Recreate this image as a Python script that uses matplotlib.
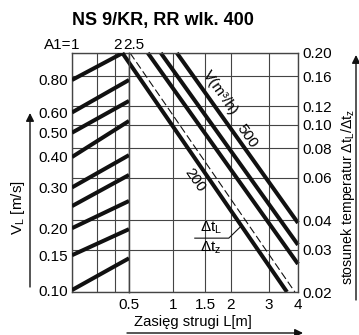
import numpy as np
import matplotlib
matplotlib.use("Agg")
import matplotlib.pyplot as plt
from matplotlib.transforms import ScaledTranslation

plt.rcParams['font.family'] = ['Liberation Sans', 'DejaVu Sans']
plt.rcParams['mathtext.fontset'] = 'custom'
plt.rcParams['mathtext.rm'] = 'Liberation Sans'

# left panel: outlet area A1 vs air velocity V_L
a1_ticks = [1, 1.5, 2, 2.5]
a1_labels = ['1', '', '2', '2.5']
vl_ticks = [0.10, 0.15, 0.20, 0.30, 0.40, 0.50, 0.60, 0.80]
vl_start = [0.80, 0.60, 0.50, 0.40, 0.30, 0.25, 0.20, 0.15, 0.10]
vl_end = [1.012, 0.80, 0.665, 0.556, 0.407, 0.338, 0.263, 0.198, 0.145]
a1_end = [2.26, 2.5, 2.5, 2.5, 2.5, 2.5, 2.5, 2.5, 2.5]

# right panel: throw L vs temperature ratio
L_ticks = [0.5, 1, 1.5, 2, 3, 4]
dt_ticks = [0.02, 0.03, 0.04, 0.06, 0.08, 0.10, 0.12, 0.16, 0.20]
line_L0 = [0.44, 0.69, 0.84, 1.05]
line_dt0 = [0.20, 0.20, 0.20, 0.20]
line_L1 = [3.59, 4.0, 4.0, 4.0]
line_dt1 = [0.020, 0.0262, 0.0315, 0.0389]
dash_L = [0.51, 3.88]
dash_dt = [0.20, 0.02]

W, H = 359, 335
fig = plt.figure(figsize=(W / 100, H / 100), dpi=100)
grid_kw = dict(color='#444444', lw=0.8)
fs = 11

axA = fig.add_axes([72 / W, 43 / H, 57 / W, 239 / H])
axR = fig.add_axes([129 / W, 43 / H, 169 / W, 239 / H])

for ax in (axA, axR):
    ax.set_yscale('log')
    ax.set_ylim(0.02, 0.2)
    ax.set_yticks(dt_ticks)
    ax.set_yticks([], minor=True)
    ax.grid(True, **grid_kw)
    for s in ax.spines.values():
        s.set_color('#444444')
        s.set_linewidth(1.0)
    ax.tick_params(length=0, labelsize=fs)

# left panel
axA.set_xscale('log')
axA.set_xlim(1, 2.5)
axA.set_xticks(a1_ticks, a1_labels)
axA.set_xticks([], minor=True)
axA.xaxis.tick_top()
axA.tick_params(axis='x', pad=1)
axA.tick_params(axis='y', labelleft=False)
# nudge top labels apart like in the original drawing
for lbl, dx in zip(axA.get_xticklabels(), [3, 0, 2, 5]):
    lbl.set_transform(lbl.get_transform() + ScaledTranslation(dx / 100, 0, fig.dpi_scale_trans))

axV = axA.twinx()
axV.set_yscale('function', functions=(lambda v: np.log10(v + 0.05), lambda u: 10 ** u - 0.05))
axV.set_ylim(0.0976, 1.012)
axV.yaxis.tick_left()
axV.set_yticks(vl_ticks, [f'{v:.2f}' for v in vl_ticks])
axV.set_yticks([], minor=True)
axV.tick_params(length=0, labelsize=fs, pad=3)
for s in axV.spines.values():
    s.set_visible(False)
for v0, v1, a1 in zip(vl_start, vl_end, a1_end):
    axV.plot([1, a1], [v0, v1], color='#111111', lw=2.9, solid_capstyle='butt')

# right panel
axR.set_xscale('function', functions=(lambda x: np.log10(x + 0.6), lambda u: 10 ** u - 0.6))
axR.set_xlim(0.5, 4)
axR.set_xticks(L_ticks, [f'{v:g}' for v in L_ticks])
axR.set_xticks([], minor=True)
axR.tick_params(axis='x', pad=4)
axR.yaxis.tick_right()
axR.set_yticklabels([f'{v:.2f}' for v in dt_ticks])
axR.tick_params(axis='y', pad=3)

for x0, y0, x1, y1 in zip(line_L0, line_dt0, line_L1, line_dt1):
    axR.plot([x0, x1], [y0, y1], color='#111111', lw=2.9, solid_capstyle='butt', clip_on=False)
axR.plot(dash_L, dash_dt, color='#111111', lw=0.8, dashes=(7, 3))

rot = -55
axR.text(1.32, 0.0588, '200', rotation=rot, ha='center', va='center', fontsize=fs)
axR.text(2.39, 0.090, '500', rotation=rot, ha='center', va='center', fontsize=fs)
axR.text(1.78, 0.136, 'V(m³/h)', rotation=rot, ha='center', va='center', fontsize=fs)
axR.text(1.60, 0.0370, r'Δt$_\mathregular{L}$', ha='center', va='center', fontsize=fs)
axR.text(1.60, 0.0306, r'Δt$_\mathregular{z}$', ha='center', va='center', fontsize=fs)
axR.plot([1.32, 1.96, 2.22], [0.0336, 0.0336, 0.0374], color='#111111', lw=0.8)

# titles and axis captions
fig.text(163 / W, 1 - 20 / H, 'NS 9/KR, RR wlk. 400', ha='center', va='center',
         fontsize=13, fontweight='bold')
fig.text(71 / W, 1 - 45 / H, 'A1=', ha='right', va='center', fontsize=fs)
fig.text(18 / W, 1 - 208 / H, r'V$_\mathregular{L}$ [m/s]', rotation=90,
         ha='center', va='center', fontsize=fs)
fig.text(348 / W, 1 - 197 / H, r'stosunek temperatur Δt$_\mathregular{L}$/Δt$_\mathregular{z}$',
         rotation=90, ha='center', va='center', fontsize=10.2)
fig.text(193 / W, 1 - 322 / H, 'Zasięg strugi L[m]', ha='center', va='center', fontsize=10.6)

arrow = dict(arrowstyle='-|>', lw=1.0, color='#111111', mutation_scale=12, shrinkA=0, shrinkB=0)
fig.add_artist(matplotlib.patches.FancyArrowPatch((30 / W, 1 - 287 / H), (30 / W, 1 - 113 / H),
                                                  transform=fig.transFigure, **arrow))
fig.add_artist(matplotlib.patches.FancyArrowPatch((356 / W, 1 - 300 / H), (356 / W, 1 - 55 / H),
                                                  transform=fig.transFigure, **arrow))
fig.add_artist(matplotlib.patches.FancyArrowPatch((127 / W, 1 - 333 / H), (303 / W, 1 - 333 / H),
                                                  transform=fig.transFigure, **arrow))

fig.savefig('out.png', dpi=100)
